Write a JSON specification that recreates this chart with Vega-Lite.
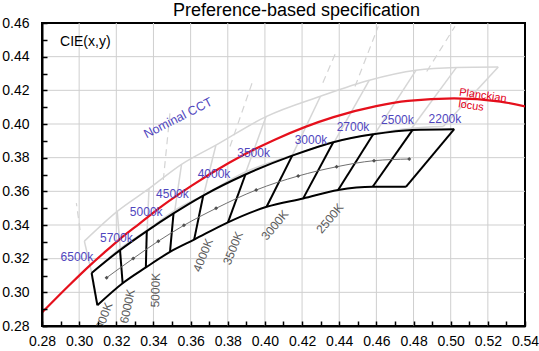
{
  "$schema": "https://vega.github.io/schema/vega-lite/v6.json",
  "width": 483,
  "height": 303,
  "autosize": "none",
  "padding": {"left": 42, "top": 23, "right": 14, "bottom": 25},
  "background": "white",
  "title": {"text": "Preference-based specification", "fontSize": 18, "font": "Liberation Sans", "fontWeight": "normal", "offset": -4, "dx": 13, "color": "black"},
  "config": {"view": {"stroke": "black", "strokeWidth": 2}, "font": "Liberation Sans"},
  "datasets": {
    "vgrid": [
      {"x": 0.30, "y": 0.28, "y2": 0.46}, {"x": 0.32, "y": 0.28, "y2": 0.46}, {"x": 0.34, "y": 0.28, "y2": 0.46},
      {"x": 0.36, "y": 0.28, "y2": 0.46}, {"x": 0.38, "y": 0.28, "y2": 0.46}, {"x": 0.40, "y": 0.28, "y2": 0.46},
      {"x": 0.42, "y": 0.28, "y2": 0.46}, {"x": 0.44, "y": 0.28, "y2": 0.46}, {"x": 0.46, "y": 0.28, "y2": 0.46},
      {"x": 0.48, "y": 0.28, "y2": 0.46}, {"x": 0.50, "y": 0.28, "y2": 0.46}, {"x": 0.52, "y": 0.28, "y2": 0.46}
    ],
    "hgrid": [
      {"y": 0.30, "x": 0.28, "x2": 0.54}, {"y": 0.32, "x": 0.28, "x2": 0.54}, {"y": 0.34, "x": 0.28, "x2": 0.54},
      {"y": 0.36, "x": 0.28, "x2": 0.54}, {"y": 0.38, "x": 0.28, "x2": 0.54}, {"y": 0.40, "x": 0.28, "x2": 0.54},
      {"y": 0.42, "x": 0.28, "x2": 0.54}, {"y": 0.44, "x": 0.28, "x2": 0.54}
    ],
    "ansi": [
      {"seg": "U", "o": 0, "x": 0.3028, "y": 0.3304},
      {"seg": "U", "o": 1, "x": 0.3205, "y": 0.3481},
      {"seg": "U", "o": 2, "x": 0.3376, "y": 0.3616},
      {"seg": "U", "o": 3, "x": 0.3551, "y": 0.3760},
      {"seg": "U", "o": 4, "x": 0.3736, "y": 0.3874},
      {"seg": "U", "o": 5, "x": 0.4006, "y": 0.4044},
      {"seg": "U", "o": 6, "x": 0.4299, "y": 0.4165},
      {"seg": "U", "o": 7, "x": 0.4562, "y": 0.4260},
      {"seg": "U", "o": 8, "x": 0.4813, "y": 0.4319},
      {"seg": "U", "o": 9, "x": 0.5030, "y": 0.4335},
      {"seg": "U", "o": 10, "x": 0.5256, "y": 0.4338},
      {"seg": "L", "o": 0, "x": 0.3068, "y": 0.3113},
      {"seg": "L", "o": 1, "x": 0.3221, "y": 0.3261},
      {"seg": "L", "o": 2, "x": 0.3366, "y": 0.3369},
      {"seg": "L", "o": 3, "x": 0.3515, "y": 0.3487},
      {"seg": "L", "o": 4, "x": 0.3670, "y": 0.3578},
      {"seg": "L", "o": 5, "x": 0.3898, "y": 0.3716},
      {"seg": "L", "o": 6, "x": 0.4147, "y": 0.3814},
      {"seg": "L", "o": 7, "x": 0.4373, "y": 0.3893},
      {"seg": "L", "o": 8, "x": 0.4593, "y": 0.3944},
      {"seg": "L", "o": 9, "x": 0.4790, "y": 0.3975},
      {"seg": "L", "o": 10, "x": 0.4960, "y": 0.3985},
      {"seg": "a1", "o": 0, "x": 0.3028, "y": 0.3304}, {"seg": "a1", "o": 1, "x": 0.3068, "y": 0.3113},
      {"seg": "a2", "o": 0, "x": 0.3205, "y": 0.3481}, {"seg": "a2", "o": 1, "x": 0.3221, "y": 0.3261},
      {"seg": "a3", "o": 0, "x": 0.3376, "y": 0.3616}, {"seg": "a3", "o": 1, "x": 0.3366, "y": 0.3369},
      {"seg": "a4", "o": 0, "x": 0.3551, "y": 0.3760}, {"seg": "a4", "o": 1, "x": 0.3515, "y": 0.3487},
      {"seg": "a5", "o": 0, "x": 0.3736, "y": 0.3874}, {"seg": "a5", "o": 1, "x": 0.3670, "y": 0.3578},
      {"seg": "a6", "o": 0, "x": 0.4006, "y": 0.4044}, {"seg": "a6", "o": 1, "x": 0.3898, "y": 0.3716},
      {"seg": "a7", "o": 0, "x": 0.4299, "y": 0.4165}, {"seg": "a7", "o": 1, "x": 0.4147, "y": 0.3814},
      {"seg": "a8", "o": 0, "x": 0.4562, "y": 0.4260}, {"seg": "a8", "o": 1, "x": 0.4373, "y": 0.3893},
      {"seg": "a9", "o": 0, "x": 0.4813, "y": 0.4319}, {"seg": "a9", "o": 1, "x": 0.4593, "y": 0.3944},
      {"seg": "a10", "o": 0, "x": 0.5030, "y": 0.4335}, {"seg": "a10", "o": 1, "x": 0.4790, "y": 0.3975},
      {"seg": "a11", "o": 0, "x": 0.5256, "y": 0.4338}, {"seg": "a11", "o": 1, "x": 0.4960, "y": 0.3985}
    ],
    "dash": [
      {"seg": "d0", "o": 0, "x": 0.3005, "y": 0.3370}, {"seg": "d0", "o": 1, "x": 0.2985, "y": 0.3530},
      {"seg": "d1", "o": 0, "x": 0.3453, "y": 0.3667}, {"seg": "d1", "o": 1, "x": 0.3489, "y": 0.4065},
      {"seg": "d2", "o": 0, "x": 0.3812, "y": 0.3866}, {"seg": "d2", "o": 1, "x": 0.3937, "y": 0.4263},
      {"seg": "d3", "o": 0, "x": 0.4312, "y": 0.4245}, {"seg": "d3", "o": 1, "x": 0.4388, "y": 0.4441},
      {"seg": "d4", "o": 0, "x": 0.4485, "y": 0.4223}, {"seg": "d4", "o": 1, "x": 0.4610, "y": 0.4580},
      {"seg": "d5", "o": 0, "x": 0.4871, "y": 0.4312}, {"seg": "d5", "o": 1, "x": 0.5023, "y": 0.4580}
    ],
    "planck": [
      {"x": 0.2800, "y": 0.2880},
      {"x": 0.2952, "y": 0.3048},
      {"x": 0.3064, "y": 0.3166},
      {"x": 0.3135, "y": 0.3236},
      {"x": 0.3221, "y": 0.3318},
      {"x": 0.3325, "y": 0.3408},
      {"x": 0.3451, "y": 0.3516},
      {"x": 0.3608, "y": 0.3635},
      {"x": 0.3805, "y": 0.3768},
      {"x": 0.4053, "y": 0.3907},
      {"x": 0.4369, "y": 0.4041},
      {"x": 0.4599, "y": 0.4106},
      {"x": 0.4770, "y": 0.4137},
      {"x": 0.5018, "y": 0.4152},
      {"x": 0.5267, "y": 0.4133},
      {"x": 0.5400, "y": 0.4105}
    ],
    "pref": [
      {"seg": "U", "o": 0, "x": 0.3067, "y": 0.3115},
      {"seg": "U", "o": 1, "x": 0.3220, "y": 0.3251},
      {"seg": "U", "o": 2, "x": 0.3364, "y": 0.3364},
      {"seg": "U", "o": 3, "x": 0.3508, "y": 0.3469},
      {"seg": "U", "o": 4, "x": 0.3668, "y": 0.3575},
      {"seg": "U", "o": 5, "x": 0.3895, "y": 0.3700},
      {"seg": "U", "o": 6, "x": 0.4147, "y": 0.3812},
      {"seg": "U", "o": 7, "x": 0.4368, "y": 0.3892},
      {"seg": "U", "o": 8, "x": 0.4583, "y": 0.3939},
      {"seg": "U", "o": 9, "x": 0.4795, "y": 0.3965},
      {"seg": "U", "o": 10, "x": 0.5019, "y": 0.3969},
      {"seg": "L", "o": 0, "x": 0.3098, "y": 0.2923},
      {"seg": "L", "o": 1, "x": 0.3234, "y": 0.3054},
      {"seg": "L", "o": 2, "x": 0.3359, "y": 0.3148},
      {"seg": "L", "o": 3, "x": 0.3489, "y": 0.3240},
      {"seg": "L", "o": 4, "x": 0.3619, "y": 0.3313},
      {"seg": "L", "o": 5, "x": 0.3801, "y": 0.3416},
      {"seg": "L", "o": 6, "x": 0.4009, "y": 0.3508},
      {"seg": "L", "o": 7, "x": 0.4206, "y": 0.3558},
      {"seg": "L", "o": 8, "x": 0.4394, "y": 0.3608},
      {"seg": "L", "o": 9, "x": 0.4580, "y": 0.3627},
      {"seg": "L", "o": 10, "x": 0.4759, "y": 0.3627},
      {"seg": "c1", "o": 0, "x": 0.3067, "y": 0.3115}, {"seg": "c1", "o": 1, "x": 0.3098, "y": 0.2923},
      {"seg": "c2", "o": 0, "x": 0.3220, "y": 0.3251}, {"seg": "c2", "o": 1, "x": 0.3234, "y": 0.3054},
      {"seg": "c3", "o": 0, "x": 0.3364, "y": 0.3364}, {"seg": "c3", "o": 1, "x": 0.3359, "y": 0.3148},
      {"seg": "c4", "o": 0, "x": 0.3508, "y": 0.3469}, {"seg": "c4", "o": 1, "x": 0.3489, "y": 0.3240},
      {"seg": "c5", "o": 0, "x": 0.3668, "y": 0.3575}, {"seg": "c5", "o": 1, "x": 0.3619, "y": 0.3313},
      {"seg": "c6", "o": 0, "x": 0.3895, "y": 0.3700}, {"seg": "c6", "o": 1, "x": 0.3801, "y": 0.3416},
      {"seg": "c7", "o": 0, "x": 0.4147, "y": 0.3812}, {"seg": "c7", "o": 1, "x": 0.4009, "y": 0.3508},
      {"seg": "c8", "o": 0, "x": 0.4368, "y": 0.3892}, {"seg": "c8", "o": 1, "x": 0.4206, "y": 0.3558},
      {"seg": "c9", "o": 0, "x": 0.4583, "y": 0.3939}, {"seg": "c9", "o": 1, "x": 0.4394, "y": 0.3608},
      {"seg": "c10", "o": 0, "x": 0.4795, "y": 0.3965}, {"seg": "c10", "o": 1, "x": 0.4580, "y": 0.3627},
      {"seg": "c11", "o": 0, "x": 0.5019, "y": 0.3969}, {"seg": "c11", "o": 1, "x": 0.4759, "y": 0.3627}
    ],
    "center": [
      {"x": 0.3148, "y": 0.3087},
      {"x": 0.3291, "y": 0.3201},
      {"x": 0.3426, "y": 0.3304},
      {"x": 0.3564, "y": 0.3398},
      {"x": 0.3737, "y": 0.3499},
      {"x": 0.3953, "y": 0.3608},
      {"x": 0.4179, "y": 0.3691},
      {"x": 0.4386, "y": 0.3746},
      {"x": 0.4587, "y": 0.3782},
      {"x": 0.4777, "y": 0.3792}
    ],
    "ulabels": [
      {"t": "6500k", "x": 0.2988, "y": 0.3207},
      {"t": "5700k", "x": 0.3200, "y": 0.3324},
      {"t": "5000k", "x": 0.3361, "y": 0.3479},
      {"t": "4500k", "x": 0.3502, "y": 0.3582},
      {"t": "4000k", "x": 0.3726, "y": 0.3703},
      {"t": "3500k", "x": 0.3939, "y": 0.3826},
      {"t": "3000k", "x": 0.4248, "y": 0.3905},
      {"t": "2700k", "x": 0.4474, "y": 0.3981},
      {"t": "2500k", "x": 0.4713, "y": 0.4024},
      {"t": "2200k", "x": 0.4969, "y": 0.4030}
    ],
    "llabels": [
      {"t": "7000K", "x": 0.3128, "y": 0.2840},
      {"t": "6000K", "x": 0.3260, "y": 0.2917},
      {"t": "5000K", "x": 0.3411, "y": 0.3013},
      {"t": "4000K", "x": 0.3667, "y": 0.3221},
      {"t": "3500K", "x": 0.3828, "y": 0.3263},
      {"t": "3000K", "x": 0.4054, "y": 0.3399},
      {"t": "2500K", "x": 0.4350, "y": 0.3439}
    ],
    "notes": [
      {"t": "CIE(x,y)", "x": 0.2897, "y": 0.4490},
      {"t": "Nominal CCT", "x": 0.3532, "y": 0.4036},
      {"t": "Planckian", "x": 0.5046, "y": 0.4187},
      {"t": "locus", "x": 0.5041, "y": 0.4117}
    ]
  },
  "encoding": {
    "x": {
      "field": "x", "type": "quantitative",
      "scale": {"domain": [0.28, 0.54], "nice": false, "zero": false},
      "axis": {
        "title": null, "zindex": 1, "grid": false,
        "values": [0.28,0.29,0.30,0.31,0.32,0.33,0.34,0.35,0.36,0.37,0.38,0.39,0.40,0.41,0.42,0.43,0.44,0.45,0.46,0.47,0.48,0.49,0.50,0.51,0.52,0.53,0.54],
        "labelExpr": "round(datum.value*100)%2==0 ? format(datum.value,'.2f') : ''",
        "tickSize": -5, "tickColor": "black", "tickWidth": 1.5,
        "domainColor": "black", "domainWidth": 2,
        "labelFontSize": 14, "labelColor": "black", "labelPadding": 13, "labelFlush": false, "labelOverlap": false
      }
    },
    "y": {
      "field": "y", "type": "quantitative",
      "scale": {"domain": [0.28, 0.46], "nice": false, "zero": false},
      "axis": {
        "title": null, "zindex": 1, "grid": false,
        "values": [0.28,0.29,0.30,0.31,0.32,0.33,0.34,0.35,0.36,0.37,0.38,0.39,0.40,0.41,0.42,0.43,0.44,0.45,0.46],
        "labelExpr": "round(datum.value*100)%2==0 ? format(datum.value,'.2f') : ''",
        "tickSize": -5, "tickColor": "black", "tickWidth": 1.5,
        "domainColor": "black", "domainWidth": 2,
        "labelFontSize": 14, "labelColor": "black", "labelPadding": 18, "labelFlush": false, "labelOverlap": false
      }
    }
  },
  "layer": [
    {
      "data": {"name": "vgrid"},
      "mark": {"type": "rule", "color": "#cfcfcf", "strokeWidth": 1},
      "encoding": {"y2": {"field": "y2"}}
    },
    {
      "data": {"name": "hgrid"},
      "mark": {"type": "rule", "color": "#cfcfcf", "strokeWidth": 1},
      "encoding": {"x2": {"field": "x2"}}
    },
    {
      "data": {"name": "ansi"},
      "mark": {"type": "line", "color": "#d6d6d6", "strokeWidth": 1.5, "interpolate": "monotone", "clip": true},
      "encoding": {"detail": {"field": "seg"}, "order": {"field": "o"}}
    },
    {
      "data": {"name": "dash"},
      "mark": {"type": "line", "color": "#d4d4d4", "strokeWidth": 1.2, "strokeDash": [7, 5], "clip": true},
      "encoding": {"detail": {"field": "seg"}, "order": {"field": "o"}}
    },
    {
      "data": {"name": "planck"},
      "mark": {"type": "line", "color": "#e5101c", "strokeWidth": 2.2, "interpolate": "monotone", "clip": true},
      "encoding": {}
    },
    {
      "data": {"name": "pref"},
      "mark": {"type": "line", "color": "black", "strokeWidth": 2, "interpolate": "monotone"},
      "encoding": {"detail": {"field": "seg"}, "order": {"field": "o"}}
    },
    {
      "data": {"name": "center"},
      "mark": {"type": "line", "color": "#707070", "strokeWidth": 1, "interpolate": "monotone"},
      "encoding": {}
    },
    {
      "data": {"name": "center"},
      "mark": {"type": "point", "shape": "diamond", "filled": true, "color": "#505050", "size": 16, "opacity": 1}
    },
    {
      "data": {"name": "ulabels"},
      "mark": {"type": "text", "color": "#5046be", "fontSize": 12, "font": "Liberation Sans"},
      "encoding": {"text": {"field": "t"}}
    },
    {
      "data": {"name": "llabels"},
      "transform": [{"filter": "datum.t == '7000K'"}],
      "mark": {"type": "text", "color": "#5a5a5a", "fontSize": 12, "angle": -70, "clip": true, "font": "Liberation Sans"},
      "encoding": {"text": {"field": "t"}}
    },
    {
      "data": {"name": "llabels"},
      "transform": [{"filter": "datum.t == '6000K'"}],
      "mark": {"type": "text", "color": "#5a5a5a", "fontSize": 12, "angle": -78, "font": "Liberation Sans"},
      "encoding": {"text": {"field": "t"}}
    },
    {
      "data": {"name": "llabels"},
      "transform": [{"filter": "datum.t == '5000K'"}],
      "mark": {"type": "text", "color": "#5a5a5a", "fontSize": 12, "angle": -88, "font": "Liberation Sans"},
      "encoding": {"text": {"field": "t"}}
    },
    {
      "data": {"name": "llabels"},
      "transform": [{"filter": "datum.t == '4000K' || datum.t == '3500K'"}],
      "mark": {"type": "text", "color": "#5a5a5a", "fontSize": 12, "angle": -68, "font": "Liberation Sans"},
      "encoding": {"text": {"field": "t"}}
    },
    {
      "data": {"name": "llabels"},
      "transform": [{"filter": "datum.t == '3000K' || datum.t == '2500K'"}],
      "mark": {"type": "text", "color": "#5a5a5a", "fontSize": 12, "angle": -50, "font": "Liberation Sans"},
      "encoding": {"text": {"field": "t"}}
    },
    {
      "data": {"name": "notes"},
      "transform": [{"filter": "datum.t == 'CIE(x,y)'"}],
      "mark": {"type": "text", "color": "black", "fontSize": 14, "align": "left", "font": "Liberation Sans"},
      "encoding": {"text": {"field": "t"}}
    },
    {
      "data": {"name": "notes"},
      "transform": [{"filter": "datum.t == 'Nominal CCT'"}],
      "mark": {"type": "text", "color": "#5046be", "fontSize": 12.5, "angle": -27, "font": "Liberation Sans"},
      "encoding": {"text": {"field": "t"}}
    },
    {
      "data": {"name": "notes"},
      "transform": [{"filter": "datum.t == 'Planckian' || datum.t == 'locus'"}],
      "mark": {"type": "text", "color": "#e2001a", "fontSize": 11, "angle": 8, "align": "left", "font": "Liberation Sans"},
      "encoding": {"text": {"field": "t"}}
    }
  ]
}
